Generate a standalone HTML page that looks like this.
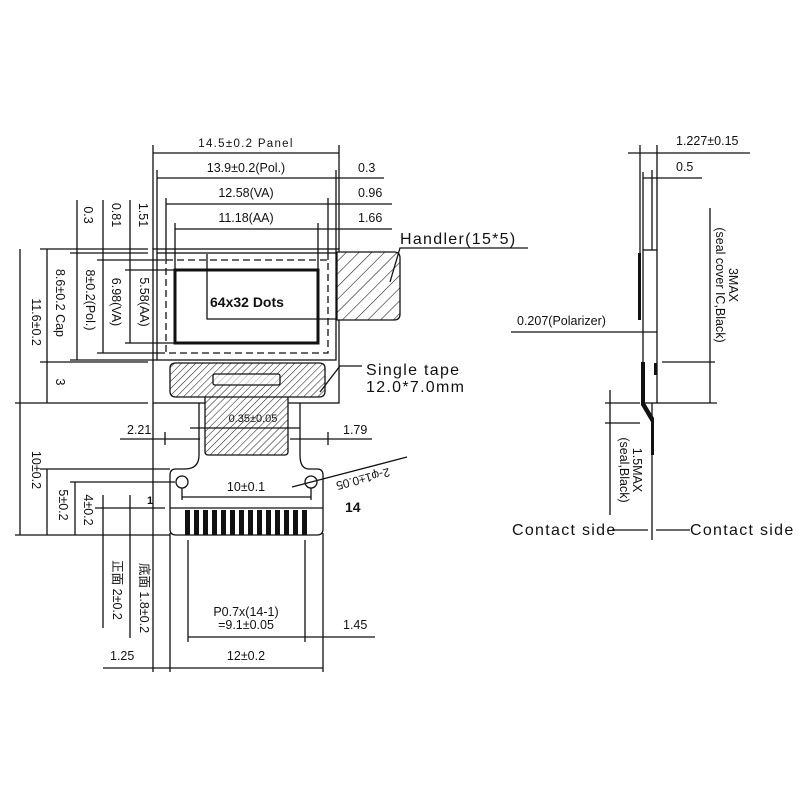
<!DOCTYPE html>
<html><head><meta charset="utf-8"><style>
html,body{margin:0;padding:0;background:#fff}
svg{display:block}
text{font-family:"Liberation Sans","Noto Sans CJK SC",sans-serif;fill:#111}
.cad{letter-spacing:1.3px}
</style></head><body>
<svg width="800" height="800" viewBox="0 0 800 800" xmlns="http://www.w3.org/2000/svg">
<defs>
<pattern id="h" patternUnits="userSpaceOnUse" width="9" height="9" patternTransform="rotate(45)">
<rect width="9" height="9" fill="#fff"/><line x1="0" y1="0" x2="0" y2="9" stroke="#222" stroke-width="1.2"/></pattern>
<pattern id="h2" patternUnits="userSpaceOnUse" width="5" height="5" patternTransform="rotate(45)">
<rect width="5" height="5" fill="#fff"/><line x1="0" y1="0" x2="0" y2="5" stroke="#222" stroke-width="1.1"/></pattern>
</defs>
<g stroke="#111" stroke-width="1.3" fill="none">
<rect x="153" y="249" width="186" height="154"/>
<rect x="157" y="253" width="179" height="107"/>
<rect x="166" y="260" width="162" height="93" stroke-dasharray="7,4"/>
<rect x="175" y="270" width="143" height="73" stroke-width="3"/>
<polyline points="207,254 207,319 338,319"/>
<path d="M337 252 H394 Q400 252 400 258 V314 Q400 320 394 320 H337 Z" fill="url(#h)"/>
<polyline points="390,282 400,248 528,248"/>
<path d="M199 403 V455 Q199 469 185 469 H176 Q170 469 170 475 V529 Q170 535 176 535 H317 Q323 535 323 529 V475 Q323 469 317 469 H309 Q300 469 300 455 V403"/>
<rect x="205" y="378" width="83" height="77" rx="3" fill="url(#h2)"/>
<path d="M170 368 Q170 363 176 363 H319 Q325 363 325 368 V391 Q325 397 319 397 H176 Q170 397 170 391 Z" fill="url(#h2)"/>
<rect x="213" y="374" width="67" height="11" rx="2" fill="#fff" fill-opacity="0.6"/>
<polyline points="320,392 340,366 362,366"/>
<line x1="170" y1="508" x2="323" y2="508"/>
<circle cx="182" cy="482" r="6"/><circle cx="311" cy="482" r="6"/>
<line x1="292" y1="487" x2="407" y2="457"/>
<line x1="153" y1="145" x2="153" y2="249"/><line x1="339" y1="145" x2="339" y2="249"/>
<line x1="157" y1="170" x2="157" y2="253"/><line x1="336" y1="170" x2="336" y2="253"/>
<line x1="166" y1="198" x2="166" y2="260"/><line x1="328" y1="198" x2="328" y2="260"/>
<line x1="175" y1="223" x2="175" y2="270"/><line x1="318" y1="223" x2="318" y2="270"/>
<line x1="153" y1="153" x2="339" y2="153"/>
<line x1="157" y1="178" x2="384" y2="178"/>
<line x1="166" y1="204" x2="392" y2="204"/>
<line x1="175" y1="229" x2="392" y2="229"/>
<line x1="77" y1="200" x2="77" y2="360"/>
<line x1="103" y1="200" x2="103" y2="353"/>
<line x1="130" y1="200" x2="130" y2="343"/>
<line x1="40" y1="249" x2="148" y2="249"/>
<line x1="70" y1="253" x2="148" y2="253"/>
<line x1="97" y1="260" x2="165" y2="260"/>
<line x1="125" y1="270" x2="175" y2="270"/>
<line x1="125" y1="343" x2="175" y2="343"/>
<line x1="97" y1="353" x2="165" y2="353"/>
<line x1="70" y1="360" x2="157" y2="360"/>
<line x1="40" y1="362" x2="148" y2="362"/>
<line x1="15" y1="403" x2="148" y2="403"/>
<line x1="20" y1="249" x2="20" y2="535"/>
<line x1="47" y1="249" x2="47" y2="403"/>
<line x1="40" y1="469" x2="170" y2="469"/>
<line x1="70" y1="482" x2="175" y2="482"/>
<line x1="95" y1="508" x2="165" y2="508"/>
<line x1="15" y1="535" x2="170" y2="535"/>
<line x1="47" y1="469" x2="47" y2="535"/>
<line x1="75" y1="482" x2="75" y2="535"/>
<line x1="103" y1="495" x2="103" y2="628"/>
<line x1="130" y1="495" x2="130" y2="638"/>
<line x1="153" y1="403" x2="153" y2="672"/>
<line x1="170" y1="533" x2="170" y2="672"/>
<line x1="323" y1="533" x2="323" y2="672"/>
<line x1="103" y1="668" x2="323" y2="668"/>
<line x1="188" y1="540" x2="188" y2="642"/>
<line x1="305" y1="540" x2="305" y2="642"/>
<line x1="188" y1="637" x2="375" y2="637"/>
<line x1="120" y1="439" x2="200" y2="439"/>
<line x1="290" y1="439" x2="372" y2="439"/>
<line x1="165" y1="432" x2="165" y2="445"/><line x1="328" y1="432" x2="328" y2="445"/>
<line x1="190" y1="428" x2="300" y2="428"/>
<line x1="182" y1="497" x2="311" y2="497"/>
<line x1="182" y1="488" x2="182" y2="500"/><line x1="311" y1="488" x2="311" y2="500"/>
<rect x="643" y="250" width="14" height="153"/>
<line x1="652" y1="170" x2="652" y2="250"/>
<line x1="643" y1="172" x2="643" y2="250"/>
<line x1="640" y1="145" x2="640" y2="253"/>
<line x1="657" y1="145" x2="657" y2="250"/>
<line x1="628" y1="153" x2="750" y2="153"/>
<line x1="643" y1="178" x2="702" y2="178"/>
<line x1="511" y1="332" x2="657" y2="332"/>
<line x1="710" y1="208" x2="710" y2="403"/>
<line x1="662" y1="362" x2="715" y2="362"/>
<line x1="657" y1="403" x2="717" y2="403"/>
<line x1="605" y1="403" x2="640" y2="403"/>
<line x1="605" y1="423" x2="640" y2="423"/>
<line x1="610" y1="390" x2="610" y2="515"/>
<line x1="652" y1="403" x2="652" y2="540"/>
<line x1="612" y1="530" x2="648" y2="530"/>
<line x1="656" y1="530" x2="690" y2="530"/>
</g>
<g fill="#111">
<rect x="638" y="253" width="3" height="67"/>
<path d="M641 362 H645 V403 L654 418 V455 H651 V422 L641 405 Z"/>
<rect x="654" y="363" width="3" height="12"/>
<rect x="185" y="510" width="5" height="25"/><rect x="194" y="510" width="5" height="25"/><rect x="203" y="510" width="5" height="25"/><rect x="212" y="510" width="5" height="25"/><rect x="221" y="510" width="5" height="25"/><rect x="230" y="510" width="5" height="25"/><rect x="239" y="510" width="5" height="25"/><rect x="248" y="510" width="5" height="25"/><rect x="257" y="510" width="5" height="25"/><rect x="266" y="510" width="5" height="25"/><rect x="275" y="510" width="5" height="25"/><rect x="284" y="510" width="5" height="25"/><rect x="293" y="510" width="5" height="25"/><rect x="302" y="510" width="5" height="25"/>
</g>
<g font-size="12.5">
<text x="246" y="147" text-anchor="middle" font-size="11.5" class="cad">14.5±0.2  Panel</text>
<text x="246" y="172" text-anchor="middle">13.9±0.2(Pol.)</text>
<text x="246" y="197" text-anchor="middle">12.58(VA)</text>
<text x="246" y="222" text-anchor="middle">11.18(AA)</text>
<text x="358" y="172">0.3</text>
<text x="358" y="197">0.96</text>
<text x="358" y="222">1.66</text>
<text x="210" y="307" font-weight="bold" font-size="14">64x32 Dots</text>
<text x="400" y="244" font-size="16" class="cad">Handler(15*5)</text>
<text x="366" y="375" font-size="16" class="cad">Single  tape</text>
<text x="366" y="392" font-size="16" class="cad">12.0*7.0mm</text>
<text x="253" y="422" text-anchor="middle" font-size="11">0.35±0.05</text>
<text x="127" y="434">2.21</text>
<text x="343" y="434">1.79</text>
<text x="246" y="491" text-anchor="middle">10±0.1</text>
<text x="345" y="512" font-size="14" font-weight="bold">14</text>
<text transform="translate(362,475) rotate(165)" text-anchor="middle" font-size="12">2-φ1±0.05</text>
<text x="246" y="616" text-anchor="middle">P0.7x(14-1)</text>
<text x="246" y="629" text-anchor="middle">=9.1±0.05</text>
<text x="343" y="629">1.45</text>
<text x="110" y="660">1.25</text>
<text x="246" y="660" text-anchor="middle">12±0.2</text>
<text x="147" y="504" font-size="11" font-weight="bold">1</text>
<g text-anchor="middle">
<text transform="translate(84,215) rotate(90)">0.3</text>
<text transform="translate(112,215) rotate(90)">0.81</text>
<text transform="translate(139,215) rotate(90)">1.51</text>
<text transform="translate(32,322) rotate(90)">11.6±0.2</text>
<text transform="translate(56,303) rotate(90)">8.6±0.2  Cap</text>
<text transform="translate(86,300) rotate(90)">8±0.2(Pol.)</text>
<text transform="translate(112,302) rotate(90)">6.98(VA)</text>
<text transform="translate(140,302) rotate(90)">5.58(AA)</text>
<text transform="translate(56,382) rotate(90)">3</text>
<text transform="translate(32,470) rotate(90)">10±0.2</text>
<text transform="translate(59,505) rotate(90)">5±0.2</text>
<text transform="translate(84,510) rotate(90)">4±0.2</text>
<text transform="translate(113,590) rotate(90)">正面 2±0.2</text>
<text transform="translate(140,598) rotate(90)">底面 1.8±0.2</text>
<text transform="translate(729,285) rotate(90)">3MAX</text>
<text transform="translate(716,285) rotate(90)">(seal  cover  IC,Black)</text>
<text transform="translate(633,470) rotate(90)">1.5MAX</text>
<text transform="translate(620,470) rotate(90)">(seal,Black)</text>
</g>
<text x="676" y="145">1.227±0.15</text>
<text x="676" y="171">0.5</text>
<text x="517" y="325">0.207(Polarizer)</text>
<text x="512" y="535" font-size="16" class="cad">Contact  side</text>
<text x="690" y="535" font-size="16" class="cad">Contact  side</text>
</g>
</svg>
</body></html>
